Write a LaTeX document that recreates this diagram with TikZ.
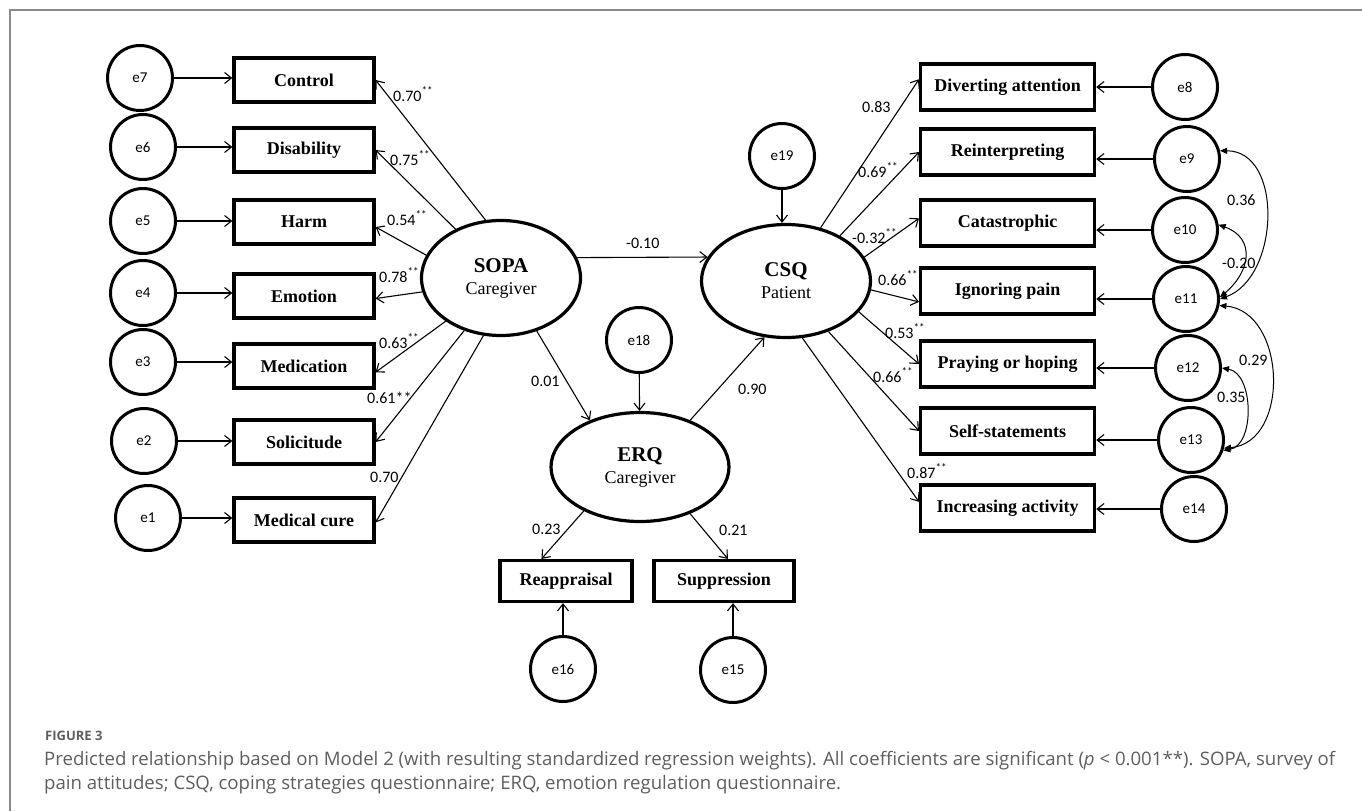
\documentclass[tikz,border=0pt]{standalone}
\usepackage{fontspec}
\setmainfont{Liberation Serif}
\newfontfamily\numfont{Carlito}
\newfontfamily\capfont{Open Sans}
\usetikzlibrary{arrows.meta,shapes.geometric}
\definecolor{capgray}{HTML}{5E5E5E}
\definecolor{framegray}{HTML}{8A8A8A}

\begin{document}
\begin{tikzpicture}[x=1pt,y=1pt,
  obs/.style={draw, line width=3.2pt, minimum width=140pt, minimum height=44pt,
    inner sep=0pt, font=\fontsize{18}{20}\selectfont\bfseries},
  robs/.style={obs, minimum width=174pt, minimum height=46pt, anchor=west},
  err/.style={draw, circle, line width=3pt, minimum size=65pt, inner sep=0pt,
    font=\numfont\fontsize{15}{17}\selectfont},
  lat/.style={draw, ellipse, line width=3.2pt, align=center, inner sep=0pt,
    font=\fontsize{18}{22}\selectfont},
  reg/.style={-{Straight Barb[length=7pt,width=11pt]}, line width=1.1pt},
  cov/.style={{Triangle[length=7pt,width=6pt]}-{Triangle[length=7pt,width=6pt]}, line width=1pt},
  coef/.style={anchor=base west, inner sep=0pt, font=\numfont\fontsize{16}{18}\selectfont}]

  \useasboundingbox (0,0) rectangle (1362,-811);

  % frame
  \draw[framegray, line width=1.5pt] (10,-811) -- (10,-10) -- (1362,-10);

  % latent variables
  \node[lat, minimum width=159pt, minimum height=115pt] (sopa) at (501,-278)
    {{\fontsize{21}{22}\selectfont\bfseries SOPA}\\Caregiver};
  \node[lat, minimum width=169pt, minimum height=113pt] (csq) at (786,-281)
    {{\fontsize{21}{22}\selectfont\bfseries CSQ}\\Patient};
  \node[lat, minimum width=178pt, minimum height=109pt] (erq) at (640,-467)
    {{\fontsize{21}{22}\selectfont\bfseries ERQ}\\Caregiver};

  % SOPA indicators
  \foreach \nm/\txt/\by/\e/\ex/\ey in {control/Control/80/7/140/78,
      disability/Disability/150/6/143/147, harm/Harm/222/5/143/221,
      emotion/Emotion/296/4/143/293, medication/Medication/366/3/143/362,
      solicitude/Solicitude/442/2/144/441, medcure/Medical cure/520/1/148/518}{
    \node[obs] (\nm) at (304,-\by) {\txt};
    \node[err] (e\e) at (\ex,-\ey) {e\e};
    \draw[reg] (e\e) -- (e\e -| \nm.west);
  }
  \foreach \a/\nm/\b in {105/control/0, 133/disability/0, 163/harm/-4, 190/emotion/-2,
      218/medication/-5, 235/solicitude/0, 253/medcure/-2}
    \draw[reg] (sopa.\a) -- (\nm.\b);

  % CSQ indicators
  \foreach \nm/\txt/\by/\e/\ex/\ey in {divert/Diverting attention/87/8/1185/87,
      reinterp/Reinterpreting/152/9/1187/159, catas/Catastrophic/223/10/1185/230,
      ignore/Ignoring pain/291/11/1186/299, praying/Praying or hoping/364/12/1188/368,
      selfst/Self-statements/431/13/1191/440, increase/Increasing activity/508/14/1194/509}{
    \node[robs] (\nm) at (919,-\by) {\txt};
    \node[err] (e\e) at (\ex,-\ey) {e\e};
    \draw[reg] (e\e) -- (e\e -| \nm.east);
  }
  \foreach \a/\nm/\b in {57/divert/175, 40/reinterp/180, 17/catas/177, -6/ignore/187,
      -23/praying/180, -50/selfst/180, -74/increase/176}
    \draw[reg] (csq.\a) -- (\nm.\b);

  % ERQ indicators
  \node[obs, minimum width=132pt, minimum height=41pt] (reap) at (566,-581) {Reappraisal};
  \node[obs, minimum width=140pt, minimum height=41pt] (supp) at (724,-581) {Suppression};
  \node[err] (e16) at (563,-669) {e16};
  \node[err] (e15) at (733,-670) {e15};
  \draw[reg] (e16) -- (e16 |- reap.south);
  \draw[reg] (e15) -- (e15 |- supp.south);
  \draw[reg] (erq.218) -- (reap.138);
  \draw[reg] (erq.317) -- (supp.80);

  % structural part
  \node[err] (e18) at (639,-340) {e18};
  \node[err] (e19) at (782,-156) {e19};
  \draw[reg] (e18) -- (erq);
  \draw[reg] (e19) -- (e19 |- csq.north);
  \draw[reg] (sopa.15) -- (csq.163);
  \draw[reg] (sopa.304) -- (erq.137);
  \draw[reg] (erq.43) -- (csq.249);

  % error covariances
  \draw[cov] (e9.14) to[out=0, in=20, looseness=1.1] (e11.0);
  \draw[cov] (e10.9) to[out=-20, in=40, looseness=1.4] (e11.3);
  \draw[cov] (e11.-11) to[out=-5, in=5, looseness=1.2] (e13.-14);
  \draw[cov] (e12.0) to[out=-10, in=10] (e13.-18);

  % coefficients
  \foreach \x/\y/\t [count=\i] in {393/101/0.70\textsuperscript{**}, 390/165/0.75\textsuperscript{**},
      387/225/0.54\textsuperscript{**}, 379/282/0.78\textsuperscript{**},
      379/348/0.63\textsuperscript{**}, 367/403/0.61**, 370/482/0.70,
      626/248/-0.10, 531/386/0.01, 738/394/0.90, 532/534/0.23, 719/535/0.21,
      862/112/0.83, 858/177/0.69\textsuperscript{**}, 852/243/-0.32\textsuperscript{**},
      878/285/0.66\textsuperscript{**}, 885/338/0.53\textsuperscript{**},
      873/382/0.66\textsuperscript{**}, 907/478/0.87\textsuperscript{**},
      1227/205/0.36, 1222/268/-0.20, 1239/365/0.29, 1217/402/0.35}
    \node[coef] (coef\i) at (\x,-\y) {\t};

  % caption
  \node[anchor=base west, inner sep=0pt, text=capgray,
    font=\capfont\bfseries\fontsize{13}{15}\selectfont] (fig) at (45,-740) {FIGURE 3};
  \node[anchor=north west, inner sep=0pt, align=left, text=capgray,
    font=\capfont\fontsize{18.6}{24.5}\selectfont] (caption) at (44,-751)
    {Predicted relationship based on Model 2 (with resulting standardized regression weights). All coefficients are significant (\textit{p} < 0.001**). SOPA, survey of\\
     pain attitudes; CSQ, coping strategies questionnaire; ERQ, emotion regulation questionnaire.};

\end{tikzpicture}
\end{document}
